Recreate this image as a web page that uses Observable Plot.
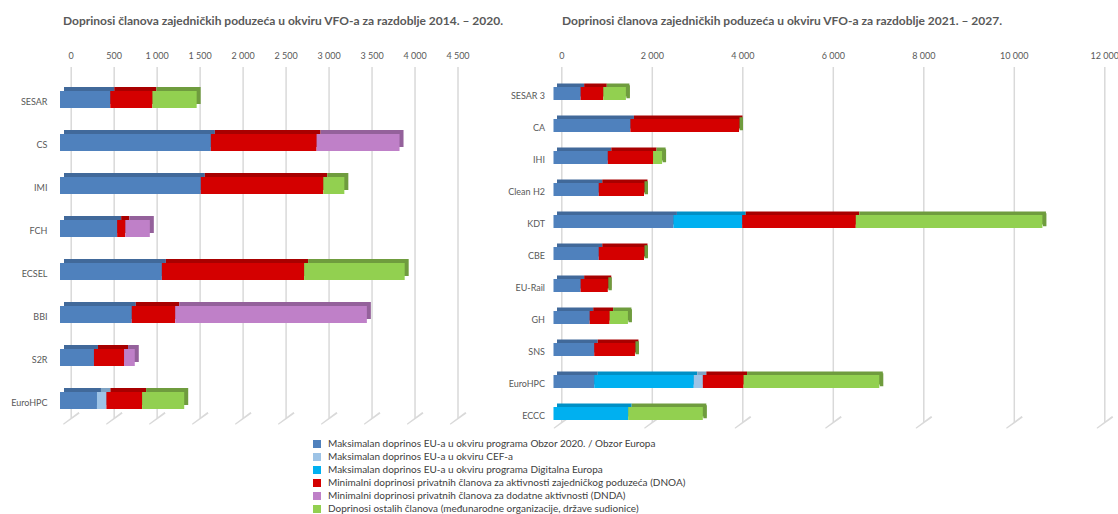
<!DOCTYPE html>
<html><head><meta charset="utf-8">
<script src="https://cdn.jsdelivr.net/npm/d3@7"></script>
<script src="https://cdn.jsdelivr.net/npm/@observablehq/plot@0.6"></script>
<style>
body{margin:0;background:#fff;font-family:Lato,"Open Sans",sans-serif;}
#wrap{position:relative;width:1118px;height:514px;overflow:hidden;background:#fff;}
.panel{position:absolute;top:0;}
.title{position:absolute;top:13px;font-weight:bold;font-size:12px;line-height:15px;color:#595959;white-space:nowrap;transform:translateX(-50%);}
#legend{position:absolute;left:313px;top:437px;font-size:10px;color:#404040;}
.li{height:13px;line-height:13px;display:flex;align-items:center;white-space:nowrap;}
.sw{width:8px;height:8px;margin-right:7px;flex:none;}
</style></head>
<body><div id="wrap">
<div class="title" style="left:283px">Doprinosi članova zajedničkih poduzeća u okviru VFO-a za razdoblje 2014. – 2020.</div>
<div class="title" style="left:782px">Doprinosi članova zajedničkih poduzeća u okviru VFO-a za razdoblje 2021. – 2027.</div>
<div id="p1" class="panel" style="left:0px"></div>
<div id="p2" class="panel" style="left:500px"></div>
<div id="legend"></div>
</div>
<script>
// ---- series ----
const stackOrder = ["obzor", "dep", "cef", "dnoa", "dnda", "ostali"];
const legendOrder = ["obzor", "cef", "dep", "dnoa", "dnda", "ostali"];
const seriesLabels = {
  obzor: "Maksimalan doprinos EU-a u okviru programa Obzor 2020. / Obzor Europa",
  cef: "Maksimalan doprinos EU-a u okviru CEF-a",
  dep: "Maksimalan doprinos EU-a u okviru programa Digitalna Europa",
  dnoa: "Minimalni doprinosi privatnih članova za aktivnosti zajedničkog poduzeća (DNOA)",
  dnda: "Minimalni doprinosi privatnih članova za dodatne aktivnosti (DNDA)",
  ostali: "Doprinosi ostalih članova (međunarodne organizacije, države sudionice)"
};
const colors = {obzor:"#4f81bd", cef:"#9dc3e6", dep:"#00b0f0", dnoa:"#d40000", dnda:"#bf80c8", ostali:"#92d050"};
const darkColors = {obzor:"#41699a", cef:"#7fa3c4", dep:"#0090c6", dnoa:"#a80000", dnda:"#94619b", ostali:"#6f9c3e"};

// ---- panel 1: 2014-2020 ----
const cats1   = ["SESAR","CS","IMI","FCH","ECSEL","BBI","S2R","EuroHPC"];
const obzor1  = [585, 1755, 1638, 665, 1185, 835, 395, 430];
const dep1    = [0, 0, 0, 0, 0, 0, 0, 0];
const cef1    = [0, 0, 0, 0, 0, 0, 0, 110];
const dnoa1   = [490, 1230, 1425, 95, 1655, 505, 350, 415];
const dnda1   = [0, 965, 0, 285, 0, 2230, 125, 0];
const ostali1 = [515, 0, 245, 0, 1170, 0, 0, 490];
const ticks1  = [0, 500, 1000, 1500, 2000, 2500, 3000, 3500, 4000, 4500];

// ---- panel 2: 2021-2027 ----
const cats2   = ["SESAR 3","CA","IHI","Clean H2","KDT","CBE","EU-Rail","GH","SNS","EuroHPC","ECCC"];
const obzor2  = [600, 1700, 1200, 1000, 2650, 1000, 600, 800, 900, 900, 0];
const dep2    = [0, 0, 0, 0, 1520, 0, 0, 0, 0, 2200, 1650];
const cef2    = [0, 0, 0, 0, 0, 0, 0, 0, 0, 200, 0];
const dnoa2   = [500, 2400, 1000, 1000, 2510, 1000, 600, 440, 900, 900, 0];
const dnda2   = [0, 0, 0, 0, 0, 0, 0, 0, 0, 0, 0];
const ostali2 = [500, 0, 200, 0, 4125, 0, 0, 405, 0, 3000, 1650];
const ticks2  = [0, 2000, 4000, 6000, 8000, 10000, 12000];

function toLong(cats, s) {
  const out = [];
  cats.forEach((c, i) => stackOrder.forEach(k => { if (s[k][i] > 0) out.push({cat: c, series: k, value: s[k][i]}); }));
  return out;
}
const table1 = toLong(cats1, {obzor: obzor1, dep: dep1, cef: cef1, dnoa: dnoa1, dnda: dnda1, ostali: ostali1});
const table2 = toLong(cats2, {obzor: obzor2, dep: dep2, cef: cef2, dnoa: dnoa2, dnda: dnda2, ostali: ostali2});

const fmt = d => d3.format(",")(d).replace(/,/g, "\u00a0");

function panel(o) {
  const marks = [
    Plot.ruleX(o.ticks, {x: d => d, stroke: "#d9d9d9", strokeWidth: 1.5}),
    Plot.vector(o.ticks, {x: d => d, frameAnchor: "bottom", length: 18.6, rotate: 234, shape: "spike", r: 0.4, stroke: "#d9d9d9", fill: "#d9d9d9", strokeWidth: 1.2}),
    Plot.barX(o.table, {x: "value", y: "cat", fill: d => darkColors[d.series], dx: o.frontDx + o.depth, dy: -o.depth}),
    Plot.barX(o.table, {x: "value", y: "cat", fill: d => colors[d.series], dx: o.frontDx})
  ];
  if (o.sideCap) {
    // end face of the 3D bar, taken from the last (green) series
    marks.push(Plot.tickX(o.table, Plot.groupY({x: "sum"}, {x: "value", y: "cat", stroke: darkColors.ostali, strokeWidth: o.depth, dx: o.frontDx + o.depth / 2, dy: -o.depth / 2})));
  }
  marks.push(
    Plot.axisX({anchor: "top", ticks: o.ticks, tickFormat: fmt, tickSize: 0, tickPadding: 9, label: null, fontSize: 9}),
    Plot.axisY({tickSize: 0, tickPadding: o.yPad, dy: 2, label: null, fontSize: 9})
  );
  return Plot.plot({
    width: o.width, height: 440,
    marginTop: 67, marginBottom: o.marginBottom, marginLeft: o.marginLeft, marginRight: 10,
    style: {background: "transparent", fontFamily: "Lato, 'Open Sans', sans-serif", fontSize: "9px", color: "#595959", overflow: "visible"},
    x: {domain: [0, o.ticks[o.ticks.length - 1]], range: o.xRange},
    y: {domain: o.cats, range: o.yRange, paddingInner: 0.6, paddingOuter: 0.3},
    color: {type: "identity"},
    marks
  });
}

document.getElementById("p1").append(panel({
  width: 520, marginLeft: 60, marginBottom: 22, xRange: [70.7, 457.5], yRange: [75, 426],
  cats: cats1, table: table1, ticks: ticks1, frontDx: -10.7, depth: 4, yPad: 13, sideCap: false
}));
document.getElementById("p2").append(panel({
  width: 618, marginLeft: 53.5, marginBottom: 18, xRange: [61.3, 604.3], yRange: [76, 430],
  cats: cats2, table: table2, ticks: ticks2, frontDx: -7.8, depth: 3.5, yPad: 9, sideCap: true
}));

const lg = document.getElementById("legend");
legendOrder.forEach(k => {
  const row = document.createElement("div"); row.className = "li";
  const sw = document.createElement("span"); sw.className = "sw"; sw.style.background = colors[k];
  const tx = document.createElement("span"); tx.textContent = seriesLabels[k];
  row.append(sw, tx); lg.append(row);
});
</script>
</body></html>
